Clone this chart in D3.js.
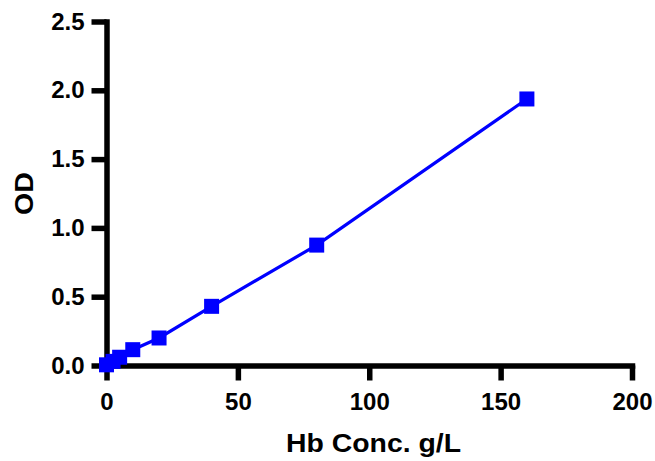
<!DOCTYPE html>
<html>
<head>
<meta charset="utf-8">
<script src="https://cdn.jsdelivr.net/npm/d3@7"></script>
<style>
  body { margin: 0; background: #fff; }
  text { font-family: "Liberation Sans", Arial, sans-serif; font-weight: bold; }
  .axis path, .axis line { stroke: #000; stroke-width: 5.5px; }
</style>
</head>
<body>
<div id="chart"></div>
<script>
// data
var conc = [0, 2.5, 5, 10, 20, 40, 80, 160];
var od = [0.005, 0.03, 0.06, 0.115, 0.2, 0.43, 0.875, 1.937];
var xTicks = [0, 50, 100, 150, 200];
var yTicks = [0, 0.5, 1.0, 1.5, 2.0, 2.5];

var svgWidth = 655;
var svgHeight = 461;

var margin = { top: 21.5, right: 23, bottom: 95.5, left: 106.5 };
var width = svgWidth - margin.left - margin.right;
var height = svgHeight - margin.top - margin.bottom;

var svg = d3.select('#chart')
    .append('svg')
    .attr('width', svgWidth)
    .attr('height', svgHeight);

var chartGroup = svg.append('g')
    .attr('transform', `translate(${margin.left},${margin.top})`);

var xScale = d3.scaleLinear().domain([0, 200]).range([0, width]);
var yScale = d3.scaleLinear().domain([0, 2.5]).range([height, 0]);

var bottomAxis = d3.axisBottom(xScale)
    .tickValues(xTicks)
    .tickSize(15)
    .tickPadding(12)
    .tickSizeOuter(0)
    .tickFormat(d3.format('d'));
var leftAxis = d3.axisLeft(yScale)
    .tickValues(yTicks)
    .tickSize(15)
    .tickPadding(7)
    .tickSizeOuter(0)
    .tickFormat(d3.format('.1f'));

var xAxis = chartGroup.append('g')
    .attr('class', 'axis')
    .attr('transform', `translate(0, ${height})`)
    .call(bottomAxis);
var yAxis = chartGroup.append('g')
    .attr('class', 'axis')
    .call(leftAxis);

[xAxis, yAxis].forEach(function(ax) {
    ax.select('.domain').style('stroke-linecap', 'square');
    ax.selectAll('.tick text')
        .attr('fill', '#000')
        .attr('font-size', '24px')
        .attr('font-family', '"Liberation Sans", Arial, sans-serif')
        .attr('font-weight', 'bold');
});

var points = conc.map(function(c, i) { return { x: c, y: od[i] }; });

var line = d3.line()
    .x(d => xScale(d.x))
    .y(d => yScale(d.y));

chartGroup.append('path')
    .datum(points)
    .attr('d', line)
    .attr('fill', 'none')
    .attr('stroke', '#0000ff')
    .attr('stroke-width', 3.2);

var sq = 15;
chartGroup.selectAll('rect.pt')
    .data(points)
    .enter()
    .append('rect')
    .attr('class', 'pt')
    .attr('x', d => xScale(d.x) - sq / 2)
    .attr('y', d => yScale(d.y) - sq / 2)
    .attr('width', sq)
    .attr('height', sq)
    .attr('fill', '#0000ff');

// axis titles
svg.append('text')
    .attr('x', 373.5)
    .attr('y', 452)
    .attr('text-anchor', 'middle')
    .attr('font-size', '25px')
    .attr('textLength', 175)
    .attr('lengthAdjust', 'spacingAndGlyphs')
    .attr('fill', '#000')
    .text('Hb Conc. g/L');

svg.append('text')
    .attr('transform', 'rotate(-90)')
    .attr('x', -193.5)
    .attr('y', 33)
    .attr('text-anchor', 'middle')
    .attr('font-size', '25px')
    .attr('textLength', 43)
    .attr('lengthAdjust', 'spacingAndGlyphs')
    .attr('fill', '#000')
    .text('OD');
</script>
</body>
</html>
